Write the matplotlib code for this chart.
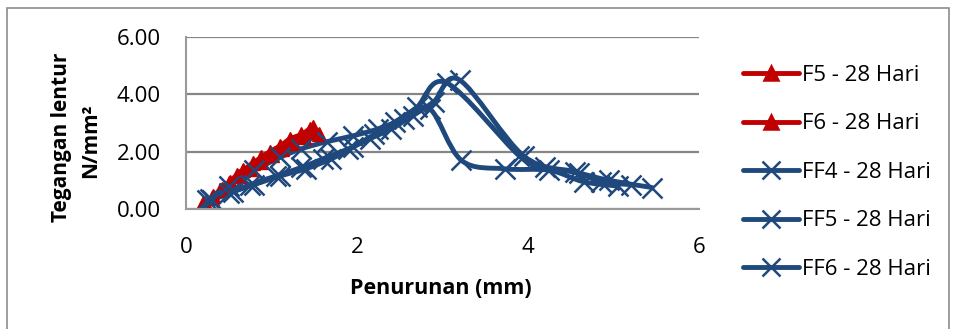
import numpy as np
import matplotlib
matplotlib.use('Agg')
import matplotlib.pyplot as plt
from matplotlib.path import Path
from matplotlib.patches import PathPatch, Rectangle
from matplotlib.lines import Line2D

plt.rcParams['font.family'] = ['Open Sans', 'DejaVu Sans']

# data (Penurunan mm, Tegangan lentur N/mm2)
f5_x = [0.22, 0.32, 0.42, 0.51, 0.6, 0.67, 0.78, 0.88, 0.98, 1.1, 1.22, 1.35, 1.45, 1.49]
f5_y = [0.2, 0.45, 0.7, 0.95, 1.2, 1.35, 1.6, 1.8, 2.0, 2.2, 2.45, 2.6, 2.8, 2.85]
f6_x = [0.2, 0.3, 0.4, 0.5, 0.62, 0.75, 0.88, 1.0, 1.12, 1.25, 1.38, 1.5, 1.55]
f6_y = [0.2, 0.4, 0.65, 0.9, 1.15, 1.4, 1.65, 1.9, 2.1, 2.3, 2.5, 2.7, 2.6]
ff4_x = [0.28, 0.5, 0.8, 1.1, 1.35, 1.65, 1.95, 2.25, 2.55, 2.85, 3.22, 3.73, 4.25, 4.65, 5.05]
ff4_y = [0.35, 0.8, 1.35, 1.8, 2.1, 2.35, 2.55, 2.8, 3.15, 3.5, 1.7, 1.4, 1.35, 0.95, 0.8]
ff5_x = [0.3, 0.55, 0.8, 1.1, 1.4, 1.7, 1.95, 2.2, 2.45, 2.7, 3.05, 3.9, 4.2, 4.6, 4.85, 5.2]
ff5_y = [0.3, 0.6, 0.85, 1.15, 1.4, 1.75, 2.15, 2.6, 3.05, 3.55, 4.4, 1.85, 1.45, 1.25, 0.95, 0.85]
ff6_x = [0.25, 0.5, 0.75, 1.05, 1.35, 1.6, 1.9, 2.15, 2.4, 2.65, 2.9, 3.2, 3.95, 4.55, 4.95, 5.45]
ff6_y = [0.3, 0.55, 0.85, 1.15, 1.45, 1.75, 2.1, 2.45, 2.8, 3.25, 3.75, 4.5, 1.85, 1.3, 1.0, 0.75]

labels = ['F5 - 28 Hari', 'F6 - 28 Hari', 'FF4 - 28 Hari', 'FF5 - 28 Hari', 'FF6 - 28 Hari']
red = '#C00000'
blue = '#1F497D'


def smooth_path(xs, ys):
    # excel-like smoothed line: bezier segments with catmull-rom control points
    p = np.column_stack([xs, ys]).astype(float)
    n = len(p)
    verts = [p[0]]
    codes = [Path.MOVETO]
    for i in range(n - 1):
        p0 = p[i - 1] if i > 0 else p[i]
        p1 = p[i]
        p2 = p[i + 1]
        p3 = p[i + 2] if i + 2 < n else p[i + 1]
        c1 = p1 + (p2 - p0) / 6.0
        c2 = p2 - (p3 - p1) / 6.0
        verts += [c1, c2, p2]
        codes += [Path.CURVE4] * 3
    return Path(verts, codes)


fig = plt.figure(figsize=(9.55, 3.29), dpi=100)
ax = fig.add_axes([186 / 955, 1 - 209 / 329, 513 / 955, 172 / 329])

series = [(f5_x, f5_y, red, '^'), (f6_x, f6_y, red, '^'),
          (ff4_x, ff4_y, blue, 'x'), (ff5_x, ff5_y, blue, 'x'), (ff6_x, ff6_y, blue, 'x')]
handles = []
for (xs, ys, c, m), lab in zip(series, labels):
    ax.add_patch(PathPatch(smooth_path(xs, ys), fill=False, ec=c, lw=3.5,
                           capstyle='round', joinstyle='round'))
    if m == '^':
        ax.plot(xs, ys, ls='none', marker='^', ms=10, color=c, mec=c)
    else:
        ax.plot(xs, ys, ls='none', marker='x', ms=14, mew=1.8, color=c)
    handles.append(Line2D([], [], color=c, lw=3.5, solid_capstyle='round', marker=m,
                          ms=10 if m == '^' else 13, mew=1.8, mec=c))

ax.set_xlim(0, 6)
ax.set_ylim(0, 6)
ax.set_xticks([0, 2, 4, 6])
ax.set_yticks([0, 2, 4, 6])
ax.set_yticklabels(['%.2f' % v for v in [0, 2, 4, 6]])
ax.tick_params(length=0, labelsize=16)
ax.tick_params(axis='y', pad=18)
ax.tick_params(axis='x', pad=20)
ax.grid(axis='y', color='#868686', lw=1.6)
ax.set_axisbelow(True)
for s in ['top', 'right']:
    ax.spines[s].set_visible(False)
for s in ['left', 'bottom']:
    ax.spines[s].set_color('#9a9a9a')
    ax.spines[s].set_linewidth(1.5)

fig.text(441 / 955, 1 - 289 / 329, 'Penurunan (mm)', ha='center', va='center',
         fontsize=15.5, fontweight='bold')
fig.text(61 / 955, 1 - 137 / 329, 'Tegangan lentur', ha='center', va='center',
         rotation=90, fontsize=15, fontweight='bold')
fig.text(91 / 955, 1 - 141 / 329, 'N/mm²', ha='center', va='center',
         rotation=90, fontsize=15, fontweight='bold')

fig.legend(handles, labels, loc='upper left', bbox_to_anchor=(743 / 955, 1 - 65 / 329),
           frameon=False, fontsize=16, handlelength=2.5, handletextpad=0.15,
           labelspacing=1.235, borderaxespad=0, borderpad=0)

fig.patches.append(Rectangle((7 / 955, -0.05), 942 / 955, 1.05 - 8 / 329, transform=fig.transFigure,
                             fill=False, ec='#8c8c8c', lw=1.2))

fig.savefig('out.png', dpi=100)
